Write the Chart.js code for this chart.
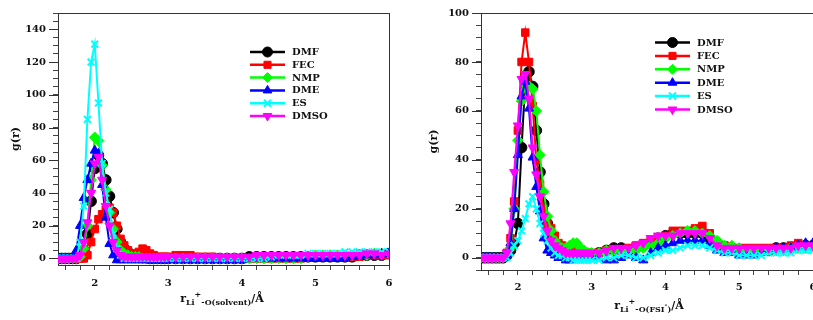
<!DOCTYPE html>
<html>
<head>
<meta charset="utf-8">
<script src="https://cdn.jsdelivr.net/npm/chart.js@4.4.1/dist/chart.umd.min.js"></script>
<style>
	html, body { margin: 0; padding: 0; background: #fff; overflow: hidden; }
	.panel { position: absolute; top: 0; }
</style>
</head>
<body>
<div class="panel" style="left:0;width:400px;height:320px"><canvas id="solventChart" width="400" height="320"></canvas></div>
<div class="panel" style="left:410px;width:420px;height:320px"><canvas id="fsiChart" width="420" height="320"></canvas></div>
<script>
// distance grid (Å)
const r = [1.50, 1.55, 1.60, 1.65, 1.70, 1.75, 1.80, 1.85, 1.90, 1.95,
	2.00, 2.05, 2.10, 2.15, 2.20, 2.25, 2.30, 2.35, 2.40, 2.45,
	2.50, 2.55, 2.60, 2.65, 2.70, 2.75, 2.80, 2.85, 2.90, 2.95, 3.00,
	3.1, 3.2, 3.3, 3.4, 3.5, 3.6, 3.7, 3.8, 3.9, 4.0,
	4.1, 4.2, 4.3, 4.4, 4.5, 4.6, 4.7, 4.8, 4.9, 5.0,
	5.1, 5.2, 5.3, 5.4, 5.5, 5.6, 5.7, 5.8, 5.9, 6.0];

const solvents = ["DMF", "FEC", "NMP", "DME", "ES", "DMSO"];

// g(r) Li+ - O(solvent)
const solvDMF = [0, 0, 0, 0, 0, 0, 1, 5, 15, 35, 55, 63, 58, 48, 38, 28, 18, 10, 6, 4,
	2, 1, 1, 1, 1, 0, 0, 0, 0, 0, 0,
	0, 0, 0, 0, 0, 0, 0, 0, 0, 0, 1, 1, 1, 1, 1, 1, 1, 1, 1, 1, 1, 1, 1, 1, 1, 2, 2, 2, 2, 3];
const solvFEC = [0, 0, 0, 0, 0, 0, 0, 0, 2, 10, 18, 24, 27, 30, 31, 28, 20, 12, 8, 5,
	3, 3, 4, 6, 5, 3, 2, 1, 1, 1, 1,
	2, 2, 2, 1, 1, 1, 0, 0, 0, 0, 0, 0, 0, 0, 0, 0, 0, 0, 1, 1, 1, 1, 1, 1, 1, 1, 2, 2, 2, 2];
const solvNMP = [0, 0, 0, 0, 0, 0, 1, 6, 20, 48, 74, 72, 57, 42, 28, 18, 10, 5, 3, 2,
	1, 1, 1, 0, 0, 0, 0, 0, 0, 0, 0,
	0, 0, 0, 0, 0, 0, 0, 0, 0, 0, 0, 0, 0, 0, 0, 0, 0, 0, 1, 2, 2, 2, 2, 2, 2, 2, 2, 3, 3, 3];
const solvDME = [0, 0, 0, 0, 0, 5, 20, 37, 48, 58, 66, 64, 45, 25, 9, 2, -1, -1, -1, -1,
	-1, -1, -1, -1, -1, -1, -1, -1, -1, -1, -1,
	-1, -1, -1, -1, -1, -1, -1, -1, -1, -1, 0, 0, 0, 0, 0, 0, 0, 0, 0, 0, 0, 0, 0, 0, 1, 1, 2, 2, 3, 3];
const solvES = [0, 0, 0, 0, 0, 0, 10, 32, 85, 120, 131, 95, 58, 40, 30, 15, 6, 2, 0, 0,
	0, 0, 0, 0, 0, 0, 0, 0, 0, 0, 0,
	0, 0, 0, 0, 0, 0, 0, 0, 0, 0, 0, 0, 0, 1, 2, 2, 2, 2, 3, 3, 3, 3, 3, 4, 4, 4, 4, 4, 4, 4];
const solvDMSO = [0, 0, 0, 0, 0, 0, 2, 10, 22, 40, 58, 62, 48, 32, 20, 10, 5, 2, 1, 1,
	1, 1, 1, 1, 1, 1, 1, 1, 1, 1, 1,
	1, 1, 1, 1, 1, 1, 1, 1, 1, 1, 1, 2, 2, 2, 2, 2, 2, 2, 2, 2, 2, 2, 2, 2, 2, 2, 3, 3, 2, 3];

// g(r) Li+ - O(FSI-)
const fsiDMF = [0, 0, 0, 0, 0, 0, 0, 1, 3, 6, 14, 45, 72, 76, 70, 52, 35, 22, 14, 9,
	6, 4, 3, 2, 2, 1, 1, 1, 1, 1, 1,
	2, 3, 4, 4, 3, 4, 5, 6, 8, 9, 10, 10, 10, 10, 10, 8, 6, 4, 4, 3, 3, 3, 3, 3, 4, 4, 4, 5, 5, 5];
const fsiFEC = [0, 0, 0, 0, 0, 0, 0, 2, 8, 23, 52, 80, 92, 80, 62, 40, 30, 20, 14, 12,
	9, 6, 5, 4, 3, 3, 2, 2, 2, 2, 2,
	2, 3, 3, 3, 4, 5, 6, 7, 8, 9, 11, 11, 11, 12, 13, 10, 6, 5, 4, 4, 4, 4, 4, 4, 4, 4, 5, 6, 5, 5];
const fsiNMP = [0, 0, 0, 0, 0, 0, 0, 1, 4, 20, 48, 64, 70, 70, 69, 60, 42, 27, 17, 11,
	7, 5, 4, 4, 5, 6, 6, 4, 3, 2, 2,
	2, 3, 3, 3, 3, 3, 4, 5, 6, 8, 9, 10, 11, 11, 10, 9, 7, 5, 5, 4, 3, 3, 3, 3, 3, 3, 4, 4, 4, 5];
const fsiDME = [0, 0, 0, 0, 0, 0, 0, 1, 6, 20, 42, 66, 72, 61, 41, 29, 19, 8, 3, 2,
	1, 0, 0, -1, -1, 0, 0, 0, 0, 0, 0,
	0, -1, -1, 0, 1, 0, -1, 2, 4, 5, 6, 7, 7, 7, 7, 5, 3, 2, 2, 1, 1, 1, 2, 3, 4, 4, 4, 5, 6, 6];
const fsiES = [0, 0, 0, 0, 0, 0, 0, 0, 2, 5, 7, 11, 16, 22, 25, 20, 14, 10, 7, 4,
	2, 1, 1, 0, 0, -1, -1, -1, -1, -1, -1,
	-1, 0, 0, 1, 1, 0, 0, 1, 2, 3, 3, 4, 5, 5, 5, 4, 3, 2, 2, 1, 1, 1, 1, 2, 2, 2, 2, 3, 3, 3];
const fsiDMSO = [0, 0, 0, 0, 0, 0, 0, 2, 14, 35, 54, 73, 75, 65, 45, 34, 25, 17, 11, 7,
	5, 4, 3, 2, 2, 2, 2, 2, 2, 2, 2,
	2, 3, 4, 4, 4, 5, 6, 8, 9, 9, 9, 10, 10, 10, 10, 8, 5, 4, 4, 4, 4, 4, 4, 4, 4, 4, 4, 5, 5, 5];

const colors = ["#000000", "#ff0000", "#00ff00", "#0000ff", "#00ffff", "#ff00ff"];
const markers = ["circle", "rect", "rectRot", "triangle", "crossRot", "triangle"];
const markerRot = [0, 0, 0, 0, 0, 180];

const serif = "'DejaVu Serif', 'Liberation Serif', serif";

function makeDatasets(series) {
	return series.map((vals, i) => ({
		label: solvents[i],
		data: vals.map((v, k) => ({ x: r[k], y: v })),
		borderColor: colors[i],
		backgroundColor: colors[i],
		pointBackgroundColor: colors[i],
		pointBorderColor: colors[i],
		pointStyle: markers[i],
		pointRotation: markerRot[i],
		pointRadius: i === 4 ? 4.8 : 5.3,
		pointBorderWidth: i === 4 ? 2 : 1,
		borderWidth: 2,
		order: 5 - i
	}));
}

function isMultiple(v, n) {
	return Math.abs(v / n - Math.round(v / n)) < 1e-6;
}

// box round the plot area, longer major ticks on the y axis
const framePlugin = {
	id: "frame",
	beforeDatasetsDraw(chart) {
		const a = chart.chartArea, ctx = chart.ctx;
		ctx.save();
		ctx.strokeStyle = "#333";
		ctx.lineWidth = 1;
		ctx.strokeRect(Math.round(a.left) + 0.5, Math.round(a.top) + 0.5, Math.round(a.right - a.left), Math.round(a.bottom - a.top));
		const ys = chart.scales.y;
		ctx.beginPath();
		ys.ticks.forEach(t => {
			if (!isMultiple(t.value, 20)) return;
			const py = Math.round(ys.getPixelForValue(t.value)) + 0.5;
			ctx.moveTo(a.left - 9, py);
			ctx.lineTo(a.left, py);
		});
		ctx.stroke();
		ctx.restore();
	}
};

// legend with line + marker, placed inside the plot
const lineLegend = {
	id: "lineLegend",
	afterDatasetsDraw(chart, args, opts) {
		const ctx = chart.ctx;
		ctx.save();
		chart.data.datasets.forEach((ds, i) => {
			const y = opts.y + i * opts.gap;
			ctx.strokeStyle = ds.borderColor;
			ctx.fillStyle = ds.borderColor;
			ctx.lineWidth = 2.5;
			ctx.beginPath();
			ctx.moveTo(opts.x, y);
			ctx.lineTo(opts.x + 35, y);
			ctx.stroke();
			ctx.lineWidth = ds.pointBorderWidth;
			Chart.helpers.drawPoint(ctx, {
				pointStyle: ds.pointStyle,
				rotation: ds.pointRotation,
				radius: 5,
				borderWidth: ds.pointBorderWidth
			}, opts.x + 17.5, y);
			ctx.fillStyle = "#111";
			ctx.font = "bold 10px " + serif;
			ctx.textBaseline = "middle";
			ctx.textAlign = "left";
			ctx.fillText(ds.label, opts.x + 42, y + 0.5);
		});
		ctx.restore();
	}
};

// x axis title with sub- and superscripts
const richTitle = {
	id: "richTitle",
	afterDraw(chart, args, opts) {
		const ctx = chart.ctx;
		const style = {
			main: { size: 11, dy: 0 },
			sub: { size: 8, dy: 3 },
			sup: { size: 8, dy: -5 },
			subsup: { size: 7, dy: -2 }
		};
		ctx.save();
		ctx.fillStyle = "#111";
		ctx.textBaseline = "alphabetic";
		ctx.textAlign = "left";
		let w = 0;
		opts.parts.forEach(p => {
			ctx.font = "bold " + style[p[1]].size + "px " + serif;
			w += ctx.measureText(p[0]).width;
		});
		let x = opts.cx - w / 2;
		opts.parts.forEach(p => {
			const s = style[p[1]];
			ctx.font = "bold " + s.size + "px " + serif;
			ctx.fillText(p[0], x, opts.baseline + s.dy);
			x += ctx.measureText(p[0]).width;
		});
		ctx.restore();
	}
};

function makeChart(id, series, cfg) {
	return new Chart(document.getElementById(id), {
		type: "line",
		data: { datasets: makeDatasets(series) },
		plugins: [framePlugin, lineLegend, richTitle],
		options: {
			responsive: false,
			animation: false,
			devicePixelRatio: 1,
			layout: { padding: cfg.padding },
			scales: {
				x: {
					type: "linear",
					min: 1.5,
					max: 6,
					afterFit: s => { s.height = cfg.xHeight; s.paddingLeft = 0; s.paddingRight = 0; },
					border: { display: false },
					grid: { drawOnChartArea: false, tickLength: 5, color: "#444" },
					ticks: {
						stepSize: 0.2,
						includeBounds: false,
						autoSkip: false,
						maxRotation: 0,
						padding: cfg.xPad,
						color: "#111",
						font: { family: serif, weight: "bold", size: 10 },
						callback: v => isMultiple(v, 1) ? String(Math.round(v)) : ""
					}
				},
				y: {
					min: cfg.yMin,
					max: cfg.yMax,
					afterFit: s => { s.width = cfg.yWidth; },
					border: { display: false },
					grid: { drawOnChartArea: false, tickLength: 5, color: "#444" },
					ticks: {
						stepSize: 5,
						includeBounds: false,
						autoSkip: false,
						padding: cfg.yPad,
						color: "#111",
						font: { family: serif, weight: "bold", size: 10 },
						callback: v => isMultiple(v, 20) ? String(Math.round(v)) : ""
					},
					title: {
						display: true,
						text: "g(r)",
						color: "#111",
						font: { family: serif, weight: "bold", size: 11 },
						padding: { top: cfg.titlePad, bottom: 0 }
					}
				}
			},
			plugins: {
				legend: { display: false },
				tooltip: { enabled: false },
				lineLegend: cfg.legend,
				richTitle: cfg.title
			}
		}
	});
}

makeChart("solventChart", [solvDMF, solvFEC, solvNMP, solvDME, solvES, solvDMSO], {
	padding: { left: 0, top: 4, right: 11, bottom: 0 },
	xHeight: 55, yWidth: 58, xPad: 7, yPad: 7, titlePad: 10,
	yMin: -4, yMax: 150,
	legend: { x: 250, y: 52, gap: 12.8 },
	title: { cx: 222, baseline: 302, parts: [["r", "main"], ["Li", "sub"], ["+", "sup"], ["-O(solvent)", "sub"], ["/Å", "main"]] }
});

makeChart("fsiChart", [fsiDMF, fsiFEC, fsiNMP, fsiDME, fsiES, fsiDMSO], {
	padding: { left: 0, top: 5, right: 17, bottom: 0 },
	xHeight: 50, yWidth: 71, xPad: 6, yPad: 7, titlePad: 18,
	yMin: -5, yMax: 100,
	legend: { x: 245, y: 42.5, gap: 13.4 },
	title: { cx: 239, baseline: 309, parts: [["r", "main"], ["Li", "sub"], ["+", "sup"], ["-O(FSI", "sub"], ["-", "subsup"], [")", "sub"], ["/Å", "main"]] }
});
</script>
</body>
</html>
